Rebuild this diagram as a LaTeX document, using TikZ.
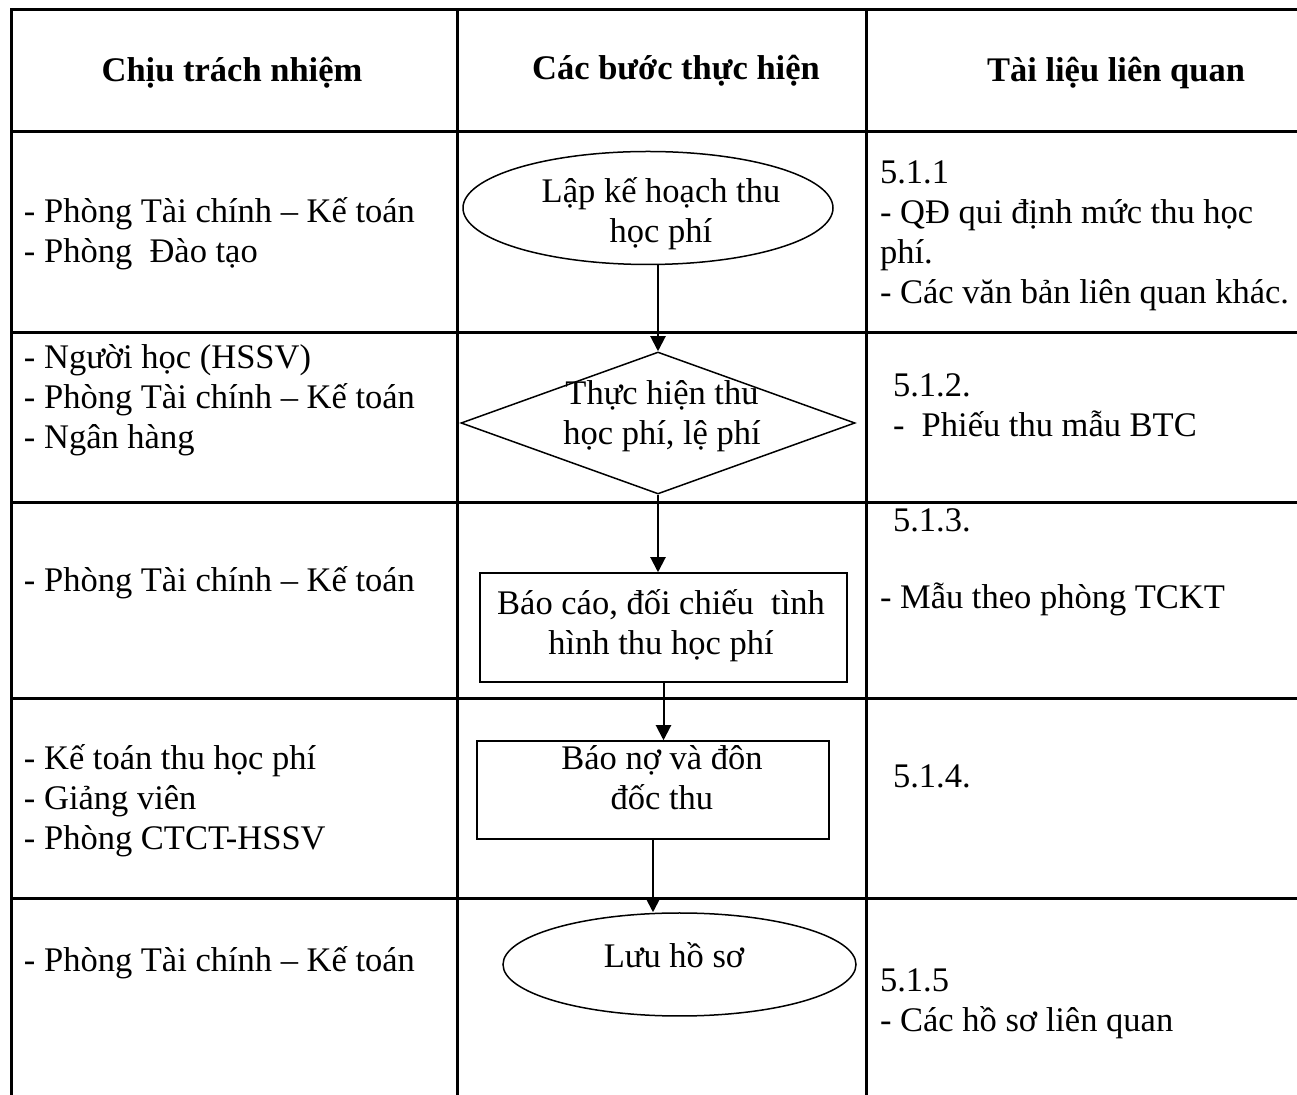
\documentclass[tikz,border=0pt]{standalone}
\usepackage{fontspec}
\setmainfont{Liberation Serif}
\usetikzlibrary{arrows.meta, shapes.geometric}
\newcommand{\bodysize}{\fontsize{17.25pt}{20pt}\selectfont}
\newcommand{\leftcell}[1]{\begin{tabular}[t]{@{}l@{}}#1\end{tabular}}
\newcommand{\midcell}[1]{\begin{tabular}[t]{@{}c@{}}#1\end{tabular}}
\tikzset{%
    rule/.style={line width=1.5pt},
    flow/.style={->, line width=1pt},
    terminal/.style={ellipse, draw, line width=0.75pt, inner sep=0pt},
    decision/.style={diamond, draw, line width=0.75pt, inner sep=0pt},
    stepbox/.style={rectangle, draw, line width=0.75pt, inner sep=0pt},
    txt/.style={inner sep=0pt, outer sep=0pt, anchor=base west},
    ctxt/.style={inner sep=0pt, outer sep=0pt, anchor=base},
    head/.style={inner sep=0pt, anchor=base, font=\bodysize\bfseries},
}

\begin{document}
\begin{tikzpicture}[x=0.5pt, y=-0.5pt, font=\bodysize, >={Triangle[length=7.5pt, width=7.5pt]}]

	\useasboundingbox (0,0) rectangle (1297,1095);

	% table
	\draw[rule] (1297,10) -- (11,10) -- (11,1095);
	\foreach \x in {457, 866} \draw[rule] (\x,10) -- (\x,1095);
	\foreach \y in {132, 333, 503, 699, 899} \draw[rule] (11,\y) -- (1297,\y);

	% header
	\node[head] (hresp) at (232,82) {Chịu trách nhiệm};
	\node[head] (hstep) at (676,80) {Các bước thực hiện};
	\node[head] (hdoc) at (1116,82) {Tài liệu liên quan};

	% flow shapes
	\node[terminal, minimum width=185pt, minimum height=56.5pt] (plan) at (648,208) {};
	\node[decision, minimum width=197pt, minimum height=71pt] (collect) at (658,423) {};
	\node[stepbox, minimum width=183.5pt, minimum height=54.5pt] (report) at (663.5,627.5) {};
	\node[stepbox, minimum width=176pt, minimum height=49pt] (remind) at (653,790) {};
	\node[terminal, minimum width=176.5pt, minimum height=51.5pt] (store) at (679.5,964.5) {};

	\node[ctxt] (plantext) at (661,203) {\midcell{Lập kế hoạch thu\\học phí}};
	\node[ctxt] (collecttext) at (662,405) {\midcell{Thực hiện thu\\học phí, lệ phí}};
	\node[ctxt] (reporttext) at (661,615) {\midcell{Báo cáo, đối chiếu~ tình\\hình thu học phí}};
	\node[ctxt] (remindtext) at (662,770) {\midcell{Báo nợ và đôn\\đốc thu}};
	\node[ctxt] (storetext) at (674,968) {Lưu hồ sơ};

	% arrows
	\draw[flow] (collect.north |- plan.south) -- (collect.north);
	\draw[flow] (collect.south) -- (collect.south |- report.north);
	\draw[flow] (report.south) -- (report.south |- remind.north);
	\draw[flow] (remind.south) -- (remind.south |- store.north);

	% responsible
	\node[txt] (resp1) at (24,223) {\leftcell{- Phòng Tài chính – Kế toán\\- Phòng~~Đào tạo}};
	\node[txt] (resp2) at (24,369) {\leftcell{- Người học (HSSV)\\- Phòng Tài chính – Kế toán\\- Ngân hàng}};
	\node[txt] (resp3) at (24,592) {- Phòng Tài chính – Kế toán};
	\node[txt] (resp4) at (24,770) {\leftcell{- Kế toán thu học phí\\- Giảng viên\\- Phòng CTCT-HSSV}};
	\node[txt] (resp5) at (24,972) {- Phòng Tài chính – Kế toán};

	% documents
	\node[txt] (doc1) at (880,184) {\leftcell{5.1.1\\- QĐ qui định mức thu học\\phí.\\- Các văn bản liên quan khác.}};
	\node[txt] (doc2) at (893,397) {\leftcell{5.1.2.\\-~~Phiếu thu mẫu BTC}};
	\node[txt] (doc3) at (893,532) {5.1.3.};
	\node[txt] (doc3b) at (880,609) {- Mẫu theo phòng TCKT};
	\node[txt] (doc4) at (893,788) {5.1.4.};
	\node[txt] (doc5) at (880,992) {\leftcell{5.1.5\\- Các hồ sơ liên quan}};

\end{tikzpicture}
\end{document}
